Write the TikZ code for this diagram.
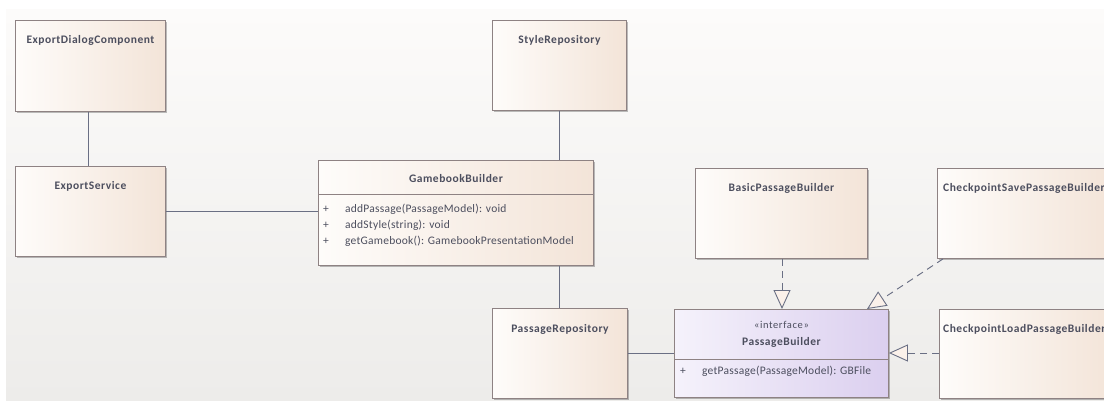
\documentclass[tikz,border=0pt]{standalone}
\usepackage{fontspec}
\setmainfont{Carlito}
\usetikzlibrary{arrows.meta,calc,shadows}

\definecolor{edgec}{HTML}{8E8283}
\definecolor{linec}{HTML}{6A6F84}
\definecolor{txt}{HTML}{4C4E5E}
\definecolor{clsL}{HTML}{FEFCFA}
\definecolor{clsR}{HTML}{F3E4D8}
\definecolor{ifL}{HTML}{F5F2FB}
\definecolor{ifR}{HTML}{DBCFEF}
\definecolor{bgT}{HTML}{FCFBFA}
\definecolor{bgB}{HTML}{EDECEA}
\definecolor{headc}{HTML}{FBF1EA}

\tikzset{
  boxbase/.style={draw=edgec, line width=0.9pt, inner sep=0pt, anchor=north west,
    drop shadow={shadow xshift=1.6pt, shadow yshift=-1.6pt, opacity=0.25, fill=black}},
  clsbox/.style={boxbase, left color=clsL, right color=clsR},
  ifbox/.style={boxbase, left color=ifL, right color=ifR},
  ttl/.style={font=\bfseries\fontsize{11.5}{13}\selectfont\addfontfeature{LetterSpace=4.5},
    text=txt, inner sep=0pt},
  mbr/.style={font=\fontsize{11.5}{13}\selectfont\addfontfeature{LetterSpace=2},
    text=txt, inner sep=0pt, anchor=west},
  stereo/.style={font=\fontsize{10.5}{12}\selectfont\addfontfeature{LetterSpace=6},
    text=txt, inner sep=0pt},
  assoc/.style={draw=linec, line width=0.95pt},
  realize/.style={draw=linec, line width=0.95pt, dash pattern=on 7pt off 5pt,
    -{Triangle[length=19pt, width=17pt, fill=headc, line width=0.9pt]}},
}

\begin{document}
\begin{tikzpicture}[x=1pt, y=-1pt]
  \useasboundingbox (0,0) rectangle (1104,401);
  \clip (0,0) rectangle (1104,401);
  \fill[white] (0,0) rectangle (1104,401);
  % diagram canvas
  \path[top color=bgT, bottom color=bgB] (6,10) rectangle (1110,400);

  % plain classes
  \node[clsbox, minimum width=150pt, minimum height=91pt] (eds) at (15,20) {};
  \node[ttl] at ($(eds.north)+(0,20)$) {ExportDialogComponent};

  \node[clsbox, minimum width=150pt, minimum height=90pt] (exs) at (15,166) {};
  \node[ttl] at ($(exs.north)+(0,20)$) {ExportService};

  \node[clsbox, minimum width=134pt, minimum height=90pt] (sty) at (492,20) {};
  \node[ttl] at ($(sty.north)+(0,20)$) {StyleRepository};

  \node[clsbox, minimum width=135pt, minimum height=90pt] (prep) at (492,308) {};
  \node[ttl] at ($(prep.north)+(0,21)$) {PassageRepository};

  \node[clsbox, minimum width=172pt, minimum height=90pt] (basic) at (695,168) {};
  \node[ttl] at ($(basic.north)+(0,20)$) {BasicPassageBuilder};

  \node[clsbox, minimum width=176pt, minimum height=90pt] (save) at (937,168) {};
  \node[ttl, anchor=west] at ($(save.north west)+(6,20)$) {CheckpointSavePassageBuilder};

  \node[clsbox, minimum width=176pt, minimum height=89pt] (load) at (939,309) {};
  \node[ttl, anchor=west] at ($(load.north west)+(4,20)$) {CheckpointLoadPassageBuilder};

  % GamebookBuilder with operations compartment
  \node[clsbox, minimum width=275pt, minimum height=105pt] (gb) at (318,160) {};
  \node[ttl] at ($(gb.north)+(0,19)$) {GamebookBuilder};
  \draw[edgec, line width=0.9pt] ($(gb.north west)+(0,34)$) -- ($(gb.north east)+(0,34)$);
  \node[mbr] at ($(gb.north west)+(5,49)$) {+};
  \node[mbr] at ($(gb.north west)+(27,49)$) {addPassage(PassageModel): void};
  \node[mbr] at ($(gb.north west)+(5,65)$) {+};
  \node[mbr] at ($(gb.north west)+(27,65)$) {addStyle(string): void};
  \node[mbr] at ($(gb.north west)+(5,81)$) {+};
  \node[mbr] at ($(gb.north west)+(27,81)$) {getGamebook(): GamebookPresentationModel};

  % PassageBuilder interface
  \node[ifbox, minimum width=214pt, minimum height=88pt] (pb) at (674,309) {};
  \node[stereo] at ($(pb.north)+(0,16)$) {«interface»};
  \node[ttl] at ($(pb.north)+(0,33)$) {PassageBuilder};
  \draw[edgec, line width=0.9pt] ($(pb.north west)+(0,50)$) -- ($(pb.north east)+(0,50)$);
  \node[mbr] at ($(pb.north west)+(6,62)$) {+};
  \node[mbr] at ($(pb.north west)+(28,62)$) {getPassage(PassageModel): GBFile};

  % associations
  \draw[assoc] (eds.south -| 88,0) -- (exs.north -| 88,0);
  \draw[assoc] (exs.east |- 0,211) -- (gb.west |- 0,211);
  \draw[assoc] (sty.south -| 559,0) -- (gb.north -| 559,0);
  \draw[assoc] (gb.south -| 559,0) -- (prep.north -| 559,0);
  \draw[assoc] (prep.east |- 0,353) -- (pb.west |- 0,353);

  % realizations
  \coordinate (basicout) at (basic.south -| 782,0);
  \coordinate (pbtop) at (pb.north -| 782,0);
  \draw[realize] (basicout) -- (pbtop);
  \coordinate (saveout) at ($(save.south west)+(6,0)$);
  \coordinate (pbtopr) at (pb.north -| 867,0);
  \draw[realize] (saveout) -- (pbtopr);
  \draw[realize] (load.west |- 0,353) -- (pb.east |- 0,353);
\end{tikzpicture}
\end{document}
